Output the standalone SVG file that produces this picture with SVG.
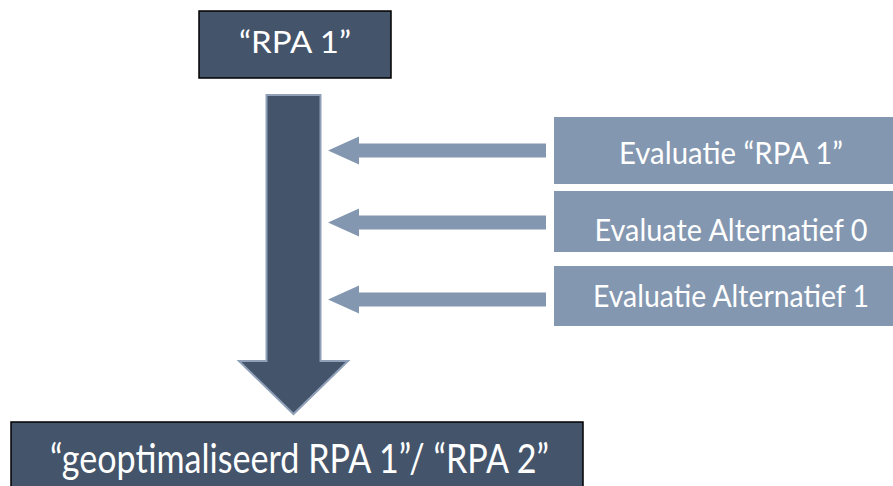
<svg xmlns="http://www.w3.org/2000/svg" width="893" height="486" viewBox="0 0 893 486">
  <style>
    .dark { fill: #44546A; stroke: #000000; stroke-width: 1.5; }
    .light { fill: #8497B0; }
    .lbl { font-family: Lato, "Liberation Sans", sans-serif; fill: #FFFFFF; text-anchor: middle; }
    .s29 { font-size: 31px; }
    .s37 { font-size: 40px; }
  </style>
  <rect width="893" height="486" fill="#FFFFFF"/>
  <g id="connectors">
    <path d="M266.5,95 L320.5,95 L320.5,361 L348,361 L293.5,414 L239,361 L266.5,361 Z" fill="#44546A" stroke="#8FA0B8" stroke-width="2"/>
    <path class="light" d="M328,150.5 L359,136.5 L359,143.5 L546,143.5 L546,157.5 L359,157.5 L359,164.5 Z"/>
    <path class="light" d="M328,222.5 L359,208.5 L359,215.5 L546,215.5 L546,229.5 L359,229.5 L359,236.5 Z"/>
    <path class="light" d="M328,299.5 L359,285.5 L359,292.5 L546,292.5 L546,306.5 L359,306.5 L359,313.5 Z"/>
  </g>
  <g id="rpa1">
    <rect class="dark" x="199" y="11" width="192" height="67"/>
    <text class="lbl s29" x="295" y="53" textLength="112" lengthAdjust="spacingAndGlyphs">“RPA 1”</text>
  </g>
  <g id="eval-rpa1">
    <rect class="light" x="554" y="117" width="339" height="67"/>
    <text class="lbl s29" x="731" y="164" textLength="224" lengthAdjust="spacingAndGlyphs">Evaluatie “RPA 1”</text>
  </g>
  <g id="eval-alt0">
    <rect class="light" x="554" y="191" width="339" height="61"/>
    <text class="lbl s29" x="731" y="241" textLength="273" lengthAdjust="spacingAndGlyphs">Evaluate Alternatief 0</text>
  </g>
  <g id="eval-alt1">
    <rect class="light" x="554" y="266" width="339" height="60"/>
    <text class="lbl s29" x="731" y="307" textLength="276" lengthAdjust="spacingAndGlyphs">Evaluatie Alternatief 1</text>
  </g>
  <g id="rpa2">
    <rect class="dark" x="11" y="422" width="572" height="70"/>
    <text class="lbl s37" x="299.5" y="473" textLength="499" lengthAdjust="spacingAndGlyphs">“geoptimaliseerd RPA 1”/ “RPA 2”</text>
  </g>
</svg>
